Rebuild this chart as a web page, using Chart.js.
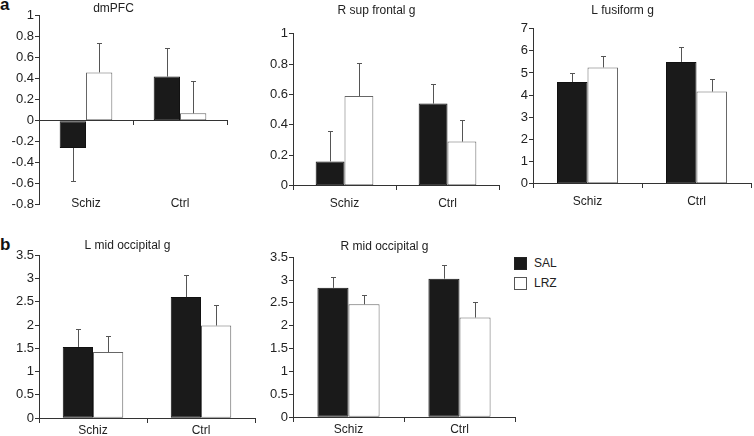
<!DOCTYPE html>
<html>
<head>
<meta charset="utf-8">
<script src="https://cdn.jsdelivr.net/npm/chart.js@4"></script>
<style>
html, body { margin: 0; padding: 0; background: #fff; overflow: hidden; }
#wrap { position: relative; width: 754px; height: 436px; font-family: "Liberation Sans", Arial, sans-serif; color: #222; }
canvas { position: absolute; }
.tag { position: absolute; font-weight: bold; font-size: 17px; line-height: 17px; color: #111; }
.leg { position: absolute; font-size: 12px; line-height: 14px; }
.sw { position: absolute; width: 11px; height: 11px; border: 1px solid #222; }
</style>
</head>
<body>
<div id="wrap">
  <div class="tag" style="left:0px;top:-4px">a</div>
  <div class="tag" style="left:0px;top:236px">b</div>
  <div class="sw" style="left:514px;top:257px;background:#1a1a1a"></div>
  <div class="leg" style="left:534px;top:256px">SAL</div>
  <div class="sw" style="left:514px;top:277px;background:#fff;border-color:#555"></div>
  <div class="leg" style="left:534px;top:276px">LRZ</div>
</div>
<script>
// data
const categories = ['Schiz', 'Ctrl'];
const titles = ['dmPFC', 'R sup frontal g', 'L fusiform g', 'L mid occipital g', 'R mid occipital g'];
const salMeans = [[-0.26, 0.42], [0.16, 0.54], [4.59, 5.5], [1.53, 2.6], [2.83, 3.03]];
const salErr   = [[0.31, 0.27], [0.2, 0.13], [0.41, 0.67], [0.38, 0.48], [0.23, 0.31]];
const lrzMeans = [[0.46, 0.07], [0.59, 0.29], [5.25, 4.16], [1.42, 1.99], [2.47, 2.18]];
const lrzErr   = [[0.28, 0.31], [0.22, 0.14], [0.5, 0.57], [0.34, 0.43], [0.2, 0.34]];
const yMin  = [-0.8, 0, 0, 0, 0];
const yMax  = [1, 1, 7, 3.5, 3.5];
const yStep = [0.2, 0.2, 1, 0.5, 0.5];

// where each plot area sits on the page
const boxes = [
  { l: 39,  r: 227, t: 16,  b: 205, tc: 8.5,  lab: -8 },
  { l: 293, r: 499, t: 34,  b: 186, tc: 10.5, lab: 11 },
  { l: 533, r: 751, t: 29,  b: 184, tc: 10.5, lab: 11 },
  { l: 39,  r: 255, t: 255, b: 418, tc: 245,  lab: 5 },
  { l: 293, r: 515, t: 257, b: 417, tc: 246,  lab: 5 }
];

const YW = 39, XH = 30;
const font = { family: '"Liberation Sans", Arial, sans-serif', size: 12 };
const tickFont = { family: '"Liberation Sans", Arial, sans-serif', size: 13 };

const errorBars = {
  id: 'errorBars',
  afterDatasetsDraw(chart) {
    const ctx = chart.ctx;
    const ys = chart.scales.y;
    chart.data.datasets.forEach((ds, i) => {
      chart.getDatasetMeta(i).data.forEach((bar, j) => {
        const v = ds.data[j];
        const tip = v < 0 ? v - ds.err[j] : v + ds.err[j];
        const x = Math.round(bar.x) + 0.5;
        const y0 = ys.getPixelForValue(v);
        const y1 = Math.round(ys.getPixelForValue(tip)) + 0.5;
        ctx.save();
        ctx.strokeStyle = '#555';
        ctx.lineWidth = 1;
        ctx.beginPath();
        ctx.moveTo(x, y0);
        ctx.lineTo(x, y1);
        ctx.moveTo(x - 2.5, y1);
        ctx.lineTo(x + 2.5, y1);
        ctx.stroke();
        ctx.restore();
      });
    });
  }
};

const wrap = document.getElementById('wrap');

boxes.forEach((bx, k) => {
  const top = bx.tc - 7.2 - 2;
  const cv = document.createElement('canvas');
  const w = YW + (bx.r - bx.l) + YW;
  const h = Math.round(bx.b + XH - top);
  cv.width = w;
  cv.height = h;
  cv.style.left = (bx.l - YW) + 'px';
  cv.style.top = top + 'px';
  wrap.appendChild(cv);

  new Chart(cv, {
    type: 'bar',
    data: {
      labels: categories,
      datasets: [
        { label: 'SAL', data: salMeans[k], err: salErr[k], backgroundColor: '#1a1a1a', borderColor: '#111', borderWidth: 1, borderSkipped: false },
        { label: 'LRZ', data: lrzMeans[k], err: lrzErr[k], backgroundColor: '#fff', borderColor: '#666', borderWidth: 1, borderSkipped: false }
      ]
    },
    options: {
      responsive: false,
      animation: false,
      devicePixelRatio: 1,
      categoryPercentage: 0.56,
      barPercentage: 1,
      layout: { padding: { left: 0, right: YW, top: 0, bottom: h - (bx.b - top) } },
      plugins: {
        legend: { display: false },
        tooltip: { enabled: false },
        title: {
          display: true,
          text: titles[k],
          color: '#222',
          font: { family: font.family, size: 12, weight: 'normal' },
          padding: { top: 2, bottom: bx.t - bx.tc - 7.2 }
        }
      },
      scales: {
        x: {
          type: 'category',
          position: { y: 0 },
          offset: true,
          grid: { display: true, drawOnChartArea: false, offset: true, tickLength: 4, color: '#333' },
          border: { display: true, color: '#333' },
          ticks: { display: false }
        },
        x2: {
          type: 'category',
          position: { y: yMin[k] },
          offset: true,
          grid: { display: false, drawTicks: false },
          border: { display: false },
          ticks: { padding: bx.lab, color: '#222', font: font }
        },
        y: {
          min: yMin[k],
          max: yMax[k],
          ticks: { stepSize: yStep[k], padding: 1, color: '#222', font: tickFont, callback: v => String(+v.toFixed(2)) },
          grid: { drawOnChartArea: false, tickLength: 4, color: '#333' },
          border: { display: true, color: '#333' },
          afterFit(s) { s.width = YW; }
        }
      }
    },
    plugins: [errorBars]
  });
});
</script>
</body>
</html>
